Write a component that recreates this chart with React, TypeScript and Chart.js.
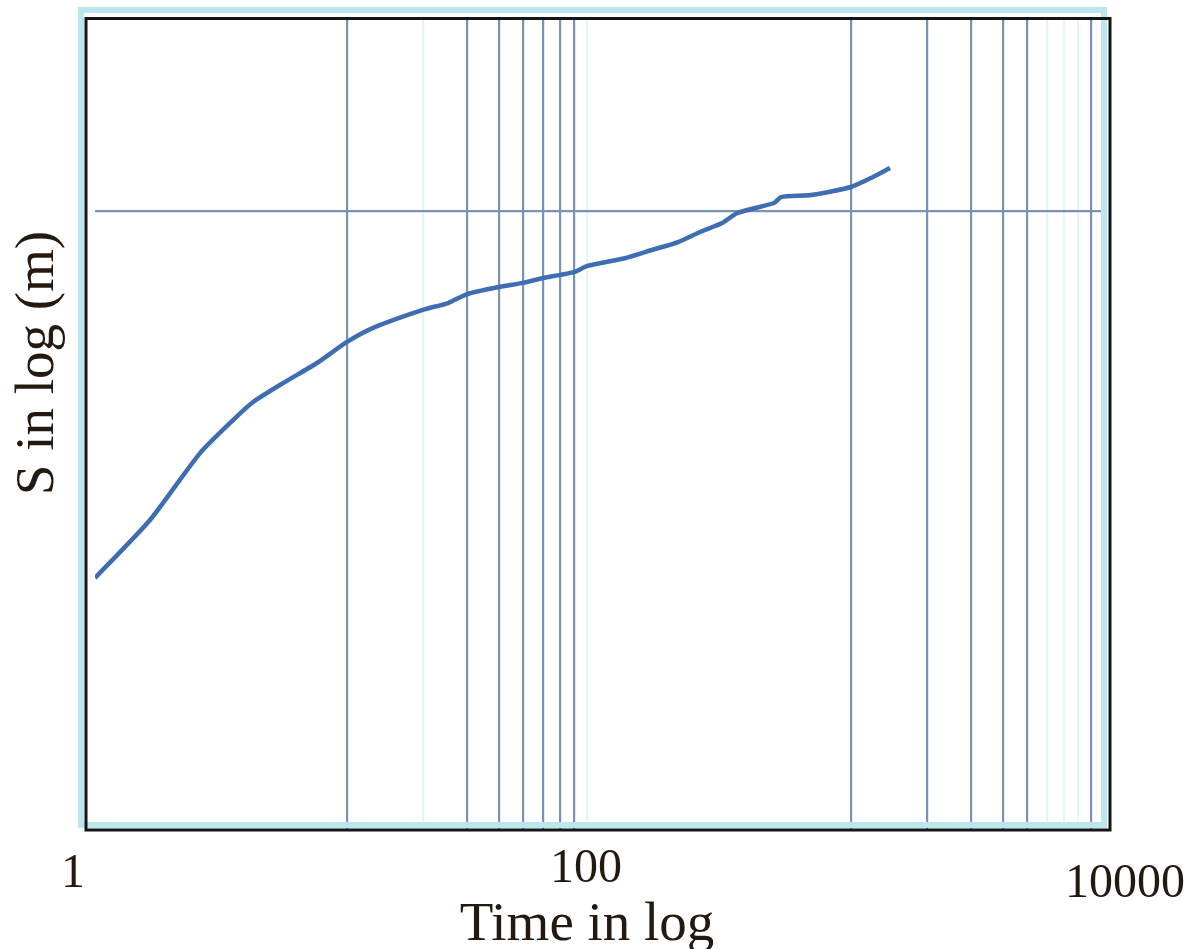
import React, { useEffect, useRef } from "react";
import { Chart, registerables } from "chart.js";

Chart.register(...registerables);

// ---- data ----
const timeValues = [1, 1.65, 2.61, 3.53, 4.24, 5.57, 7.6, 10, 12.9, 20, 25.2, 30, 40, 50, 60, 70, 80, 90, 128, 162, 206, 252, 308, 353, 495, 528, 694, 1000, 1223, 1428];
const drawdownValues = [0.065, 0.1, 0.165, 0.211, 0.2415, 0.278, 0.323, 0.378, 0.422, 0.48, 0.505, 0.54, 0.569, 0.587, 0.609, 0.623, 0.637, 0.666, 0.707, 0.75, 0.796, 0.858, 0.917, 0.988, 1.065, 1.113, 1.13, 1.2, 1.293, 1.382];

const xTickValues = [1, 100, 10000];
const xTickLabels = ["1", "100", "10000"];
const xGridStrong = [10, 30, 40, 50, 60, 70, 80, 1000, 2000, 3000, 4000, 5000, 9000];
const xGridFaint = [20, 90, 6000, 7000, 8000];
const yGridValues = [1];

const xTitle = "Time in log";
const yTitle = "S in log (m)";

const TEXT_COLOR = "#24190f";
const GRID_COLOR = "#7b91b8";
const FAINT_GRID = "#e6f5f9";
const LINE_COLOR = "#3f6db2";
const SERIF = '"Liberation Serif", "Times New Roman", serif';

const framePlugin = {
  id: "frameAndText",
  afterDraw(chart: any) {
    const { ctx, chartArea: a, scales } = chart;
    ctx.save();
    // light cyan outer frame (scan artefact)
    ctx.strokeStyle = "#bde7ef";
    ctx.lineWidth = 6;
    const cl = a.left - 14, ct = a.top - 9, cr = a.right + 1, cb = a.bottom - 4;
    ctx.strokeRect(cl, ct, cr - cl, cb - ct);
    // black frame
    ctx.strokeStyle = "#151515";
    ctx.lineWidth = 3;
    const bl = a.left - 9, bt = a.top - 0.5, br = a.right + 7, bb = a.bottom + 1;
    ctx.strokeRect(bl, bt, br - bl, bb - bt);

    // tick labels
    const dx = [-22, -13, 22];
    const dy = [58, 53, 68];
    ctx.fillStyle = TEXT_COLOR;
    ctx.font = `48px ${SERIF}`;
    ctx.textAlign = "center";
    ctx.textBaseline = "alphabetic";
    xTickValues.forEach((v, i) => {
      const x = scales.x.getPixelForValue(v) + dx[i];
      ctx.fillText(xTickLabels[i], x, a.bottom + dy[i]);
    });

    // axis titles
    ctx.font = `55px ${SERIF}`;
    ctx.fillText(xTitle, (a.left + a.right) / 2 - 12, a.bottom + 111);
    ctx.translate(a.left - 42, (a.top + a.bottom) / 2 - 61);
    ctx.rotate(-Math.PI / 2);
    ctx.fillText(yTitle, 0, 0);
    ctx.restore();
  },
};

export default function App() {
  const canvasRef = useRef<HTMLCanvasElement | null>(null);

  useEffect(() => {
    if (!canvasRef.current) return;
    const chart = new Chart(canvasRef.current, {
      type: "line",
      data: {
        datasets: [
          {
            data: timeValues.map((t, i) => ({ x: t, y: drawdownValues[i] })),
            borderColor: LINE_COLOR,
            borderWidth: 4.5,
            pointRadius: 0,
            tension: 0.2,
            fill: false,
          },
        ],
      },
      options: {
        animation: false,
        responsive: false,
        maintainAspectRatio: false,
        layout: { padding: { left: 95, right: 91, top: 19, bottom: 120 } },
        plugins: { legend: { display: false }, tooltip: { enabled: false } },
        scales: {
          x: {
            type: "logarithmic",
            min: 1,
            max: 10000,
            afterBuildTicks: (scale: any) => {
              scale.ticks = [...xGridStrong, ...xGridFaint].map((v) => ({ value: v }));
            },
            ticks: { display: false },
            border: { display: false },
            grid: {
              drawTicks: false,
              lineWidth: 2.2,
              color: (c: any) => (xGridStrong.includes(c.tick?.value) ? GRID_COLOR : FAINT_GRID),
            },
            title: { display: false },
          },
          y: {
            type: "logarithmic",
            min: 0.01,
            max: 4.2,
            afterBuildTicks: (scale: any) => {
              scale.ticks = yGridValues.map((v) => ({ value: v }));
            },
            ticks: { display: false },
            border: { display: false },
            grid: { drawTicks: false, lineWidth: 2.2, color: GRID_COLOR },
            title: { display: false },
          },
        },
      },
      plugins: [framePlugin],
    });
    return () => chart.destroy();
  }, []);

  return (
    <div style={{ position: "absolute", left: 0, top: 0, width: 1194, height: 949, background: "#fff" }}>
      <canvas ref={canvasRef} width={1194} height={949} style={{ display: "block" }} />
    </div>
  );
}
